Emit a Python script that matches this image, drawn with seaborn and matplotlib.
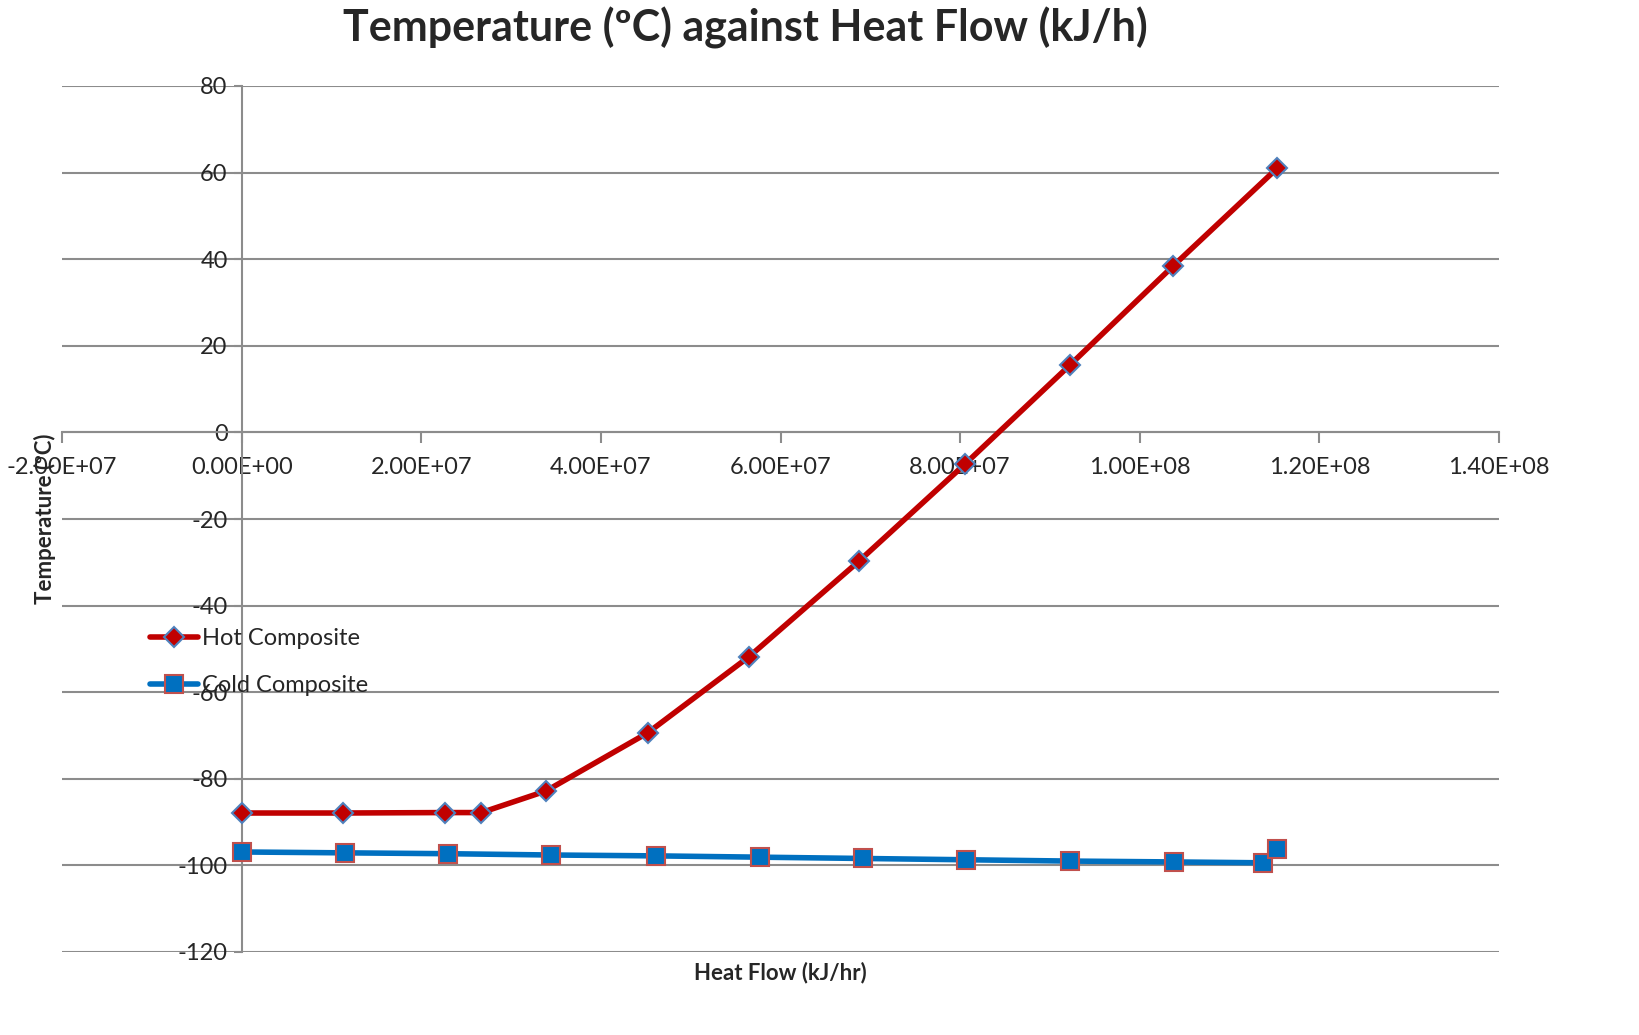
import numpy as np
import pandas as pd
import seaborn as sns
import matplotlib.pyplot as plt
from matplotlib.ticker import FuncFormatter, MultipleLocator

# ── Data ──────────────────────────────────────────────────────────────────────
hot_q = [0.0, 1.125e7, 2.26e7, 2.67e7, 3.39e7, 4.52e7, 5.65e7, 6.87e7,
         8.05e7, 9.22e7, 1.037e8, 1.153e8]
hot_t = [-87.9, -87.9, -87.8, -87.8, -82.8, -69.4, -51.8, -29.8,
         -7.4, 15.5, 38.4, 61.0]

cold_q = [0.0, 1.15e7, 2.3e7, 3.45e7, 4.61e7, 5.77e7, 6.92e7, 8.07e7,
          9.22e7, 1.038e8, 1.137e8, 1.153e8]
cold_t = [-96.9, -97.1, -97.3, -97.6, -97.8, -98.1, -98.4, -98.7,
          -99.0, -99.2, -99.4, -96.2]

hot = pd.DataFrame({"q": hot_q, "t": hot_t})
cold = pd.DataFrame({"q": cold_q, "t": cold_t})

sns.set_style("white")
plt.rcParams["font.family"] = ["Lato", "DejaVu Sans"]

GRID = "#8c8c8c"

fig = plt.figure(figsize=(16.39, 10.35), dpi=100)
ax = fig.add_axes([62 / 1639, 1 - 952 / 1035, (1499 - 62) / 1639, (952 - 86) / 1035])

sns.lineplot(data=hot, x="q", y="t", ax=ax, sort=False, estimator=None,
             color="#C00000", linewidth=4, marker="D", markersize=10,
             markerfacecolor="#C00000", markeredgecolor="#4F81BD",
             markeredgewidth=1.5, label="Hot Composite", zorder=4)
sns.lineplot(data=cold, x="q", y="t", ax=ax, sort=False, estimator=None,
             color="#0070C0", linewidth=4, marker="s", markersize=13,
             markerfacecolor="#0070C0", markeredgecolor="#C0504D",
             markeredgewidth=1.5, label="Cold Composite", zorder=3)

ax.set_xlim(-2e7, 1.4e8)
ax.set_ylim(-120, 80)
ax.xaxis.set_major_locator(MultipleLocator(2e7))
ax.yaxis.set_major_locator(MultipleLocator(20))
ax.xaxis.set_major_formatter(FuncFormatter(lambda v, p: f"{v:.2E}"))
ax.yaxis.set_major_formatter(FuncFormatter(lambda v, p: f"{v:.0f}"))

ax.grid(axis="y", color=GRID, linewidth=1.5)
ax.set_axisbelow(True)

for s in ["top", "right"]:
    ax.spines[s].set_visible(False)
ax.spines["left"].set_position(("data", 0))
ax.spines["bottom"].set_position(("data", 0))
for s in ["left", "bottom"]:
    ax.spines[s].set_color(GRID)
    ax.spines[s].set_linewidth(1.5)
    ax.spines[s].set_zorder(2)

ax.tick_params(axis="x", direction="out", length=8, width=1.5, color=GRID,
               labelsize=17, pad=10, bottom=True)
ax.tick_params(axis="y", direction="out", length=6, width=1.5, color=GRID,
               labelsize=17, pad=4, left=True)

ax.set_xlabel("")
ax.set_ylabel("")
fig.text(45 / 1639, 1 - 519 / 1035, "Temperature (ºC)", rotation=90,
         ha="center", va="center", fontsize=16, fontweight="bold")
fig.text(780 / 1639, 1 - 973 / 1035, "Heat Flow (kJ/hr)",
         ha="center", va="center", fontsize=16, fontweight="bold")
fig.text(745 / 1639, 1 - 28 / 1035, "Temperature (ºC) against Heat Flow (kJ/h)",
         ha="center", va="center", fontsize=31, fontweight="bold")

leg = ax.legend(loc="upper left", bbox_to_anchor=(0.055, 0.385), frameon=False,
                fontsize=17, handlelength=2.0, labelspacing=1.1,
                handletextpad=0.2, borderaxespad=0)

fig.savefig("out.png", dpi=100)
